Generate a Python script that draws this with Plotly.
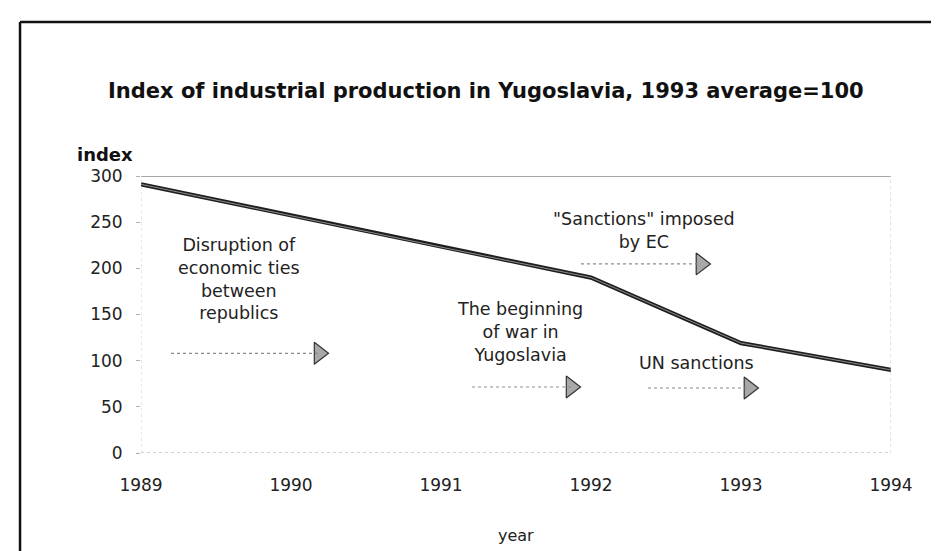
import plotly.graph_objects as go

# ---- data ----
years = [1989, 1990, 1991, 1992, 1993, 1994]
index_values = [291, 257, 223, 190, 119, 90]
y_ticks = [0, 50, 100, 150, 200, 250, 300]

# annotation texts and arrows (data coordinates)
note_texts = ["Disruption of<br>economic ties<br>between<br>republics",
              "The beginning<br>of war in<br>Yugoslavia",
              "\"Sanctions\" imposed<br>by EC",
              "UN sanctions"]
note_x = [1989.653, 1991.527, 1992.353, 1992.70]
note_y = [188.5, 131, 240.5, 97.5]
arrow_x0 = [1989.20, 1991.207, 1991.933, 1992.38]
arrow_x1 = [1990.247, 1991.927, 1992.793, 1993.113]
arrow_y = [108, 71.5, 204.8, 70.4]

TXT = "#222222"
FONT = "DejaVu Sans"

fig = go.Figure()

# main line (scanned look: dark band with lighter core)
fig.add_trace(go.Scatter(x=years, y=index_values, mode="lines",
                         line=dict(color="#1e1e1e", width=4.2),
                         hoverinfo="skip", showlegend=False))
fig.add_trace(go.Scatter(x=years, y=index_values, mode="lines",
                         line=dict(color="#9a9a9a", width=0.9),
                         hoverinfo="skip", showlegend=False))

shapes = []
# arrow shafts
tip_offset = 9 / 150.0
for x0, x1, y in zip(arrow_x0, arrow_x1, arrow_y):
    shapes.append(dict(type="line", xref="x", yref="y", x0=x0, x1=x1 - tip_offset,
                       y0=y, y1=y, line=dict(color="#8c8c8c", width=1.2, dash="dot")))
# arrow heads
fig.add_trace(go.Scatter(x=[x - tip_offset for x in arrow_x1], y=arrow_y, mode="markers",
                         marker=dict(symbol="triangle-right", size=19, color="#a8a8a8",
                                     line=dict(color="#333333", width=1.2)),
                         hoverinfo="skip", showlegend=False))

# frame lines of the plot
shapes += [
    dict(type="line", xref="x", yref="y", x0=years[0], x1=years[-1], y0=300, y1=300,
         line=dict(color="#8a8a8a", width=1.5)),
    dict(type="line", xref="x", yref="y", x0=years[0], x1=years[-1], y0=0, y1=0,
         line=dict(color="#a0a0a0", width=1, dash="dot")),
    dict(type="line", xref="x", yref="y", x0=years[-1], x1=years[-1], y0=0, y1=300,
         line=dict(color="#c4c4c4", width=1, dash="dot")),
    dict(type="line", xref="x", yref="y", x0=years[0], x1=years[0], y0=0, y1=300,
         line=dict(color="#d0d0d0", width=1, dash="dot")),
    # page border (scanned frame)
    dict(type="line", xref="paper", yref="paper", x0=-0.1613, x1=1.08, y0=1.556, y1=1.556,
         line=dict(color="#111111", width=2.5)),
    dict(type="line", xref="paper", yref="paper", x0=-0.1613, x1=-0.1613, y0=1.556, y1=-0.39,
         line=dict(color="#111111", width=2.5)),
]

annotations = []
for t, x, y in zip(note_texts, note_x, note_y):
    annotations.append(dict(text=t, x=x, y=y, xref="x", yref="y", showarrow=False,
                            align="center", xanchor="center", yanchor="middle",
                            font=dict(family=FONT, size=17.5, color=TXT)))
annotations += [
    dict(text="<b>Index of industrial production in Yugoslavia, 1993 average=100</b>",
         x=0.4600, y=1.307, xref="paper", yref="paper", showarrow=False,
         xanchor="center", yanchor="middle", font=dict(family=FONT, size=21, color="#111111")),
    dict(text="<b>index</b>", x=-0.048, y=1.076, xref="paper", yref="paper", showarrow=False,
         xanchor="center", yanchor="middle", font=dict(family=FONT, size=18, color="#111111")),
    dict(text="year", x=0.5, y=-0.2996, xref="paper", yref="paper", showarrow=False,
         xanchor="center", yanchor="middle", font=dict(family=FONT, size=16, color=TXT)),
]

fig.update_layout(
    width=939, height=551,
    margin=dict(l=133, r=56, t=168, b=106),
    paper_bgcolor="white", plot_bgcolor="white",
    showlegend=False,
    shapes=shapes, annotations=annotations,
    xaxis=dict(range=[years[0], years[-1]], tickvals=years, ticktext=[str(y) for y in years],
               showgrid=False, zeroline=False, showline=False, ticks="",
               ticklabelstandoff=20,
               tickfont=dict(family=FONT, size=17, color=TXT)),
    yaxis=dict(range=[0, 300], tickvals=y_ticks, showgrid=False, zeroline=False,
               showline=False, ticks="outside", ticklen=4, tickcolor="#b0b0b0",
               ticklabelstandoff=10,
               tickfont=dict(family=FONT, size=17, color=TXT)),
)

fig.write_html("out.html")
